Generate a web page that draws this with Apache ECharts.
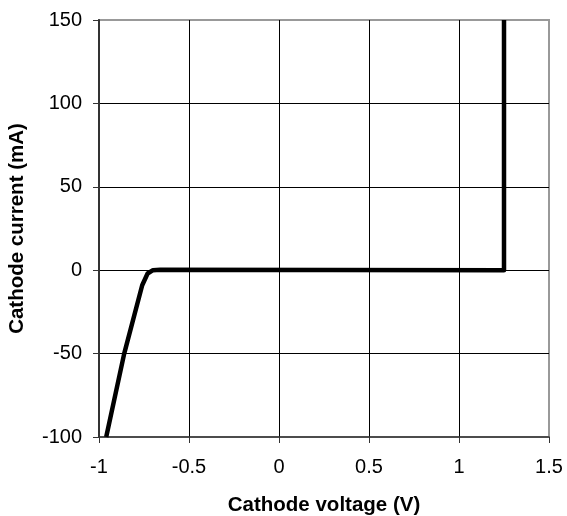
<!DOCTYPE html>
<html><head><meta charset="utf-8">
<script src="https://cdn.jsdelivr.net/npm/echarts@6/dist/echarts.min.js"></script>
<style>html,body{margin:0;padding:0;background:#fff}#c{width:567px;height:516px}</style>
</head><body><div id="c"></div>
<script>
const voltage = [-0.96, -0.86, -0.76, -0.73, -0.70, -0.66, 1.25, 1.25];
const current = [-100, -50, -9, -2, 0, 0.3, 0, 150];
const xTicks = [-1, -0.5, 0, 0.5, 1, 1.5];
const yTicks = [-100, -50, 0, 50, 100, 150];
const xTitle = 'Cathode voltage (V)';
const yTitle = 'Cathode current (mA)';

const chart = echarts.init(document.getElementById('c'), null, {renderer:'canvas'});
const font = 'Liberation Sans, Arial, sans-serif';
chart.setOption({
  animation:false,
  backgroundColor:'#fff',
  grid:{left:99, right:18, top:20, bottom:79, containLabel:false, outerBoundsMode:'none',
    show:true, borderColor:'#999', borderWidth:2, backgroundColor:'transparent'},
  xAxis:{type:'value', min:xTicks[0], max:xTicks[xTicks.length-1], interval:0.5,
    name:xTitle, nameLocation:'middle', nameGap:58,
    nameTextStyle:{fontFamily:font, fontWeight:'bold', fontSize:20.5, color:'#000'},
    axisLine:{onZero:false, lineStyle:{color:'#333', width:1.5}},
    axisTick:{show:true, length:6, lineStyle:{color:'#333'}},
    axisLabel:{fontFamily:font, fontSize:20, color:'#000', margin:20},
    splitLine:{show:true, showMinLine:false, showMaxLine:false, lineStyle:{color:'#000', width:1}}},
  yAxis:{type:'value', min:yTicks[0], max:yTicks[yTicks.length-1], interval:50,
    name:yTitle, nameLocation:'middle', nameGap:71, nameRotate:90,
    nameTextStyle:{fontFamily:font, fontWeight:'bold', fontSize:20.5, color:'#000'},
    axisLine:{show:true, onZero:false, lineStyle:{color:'#333', width:2}},
    axisTick:{show:true, length:6, lineStyle:{color:'#333'}},
    axisLabel:{fontFamily:font, fontSize:20, color:'#000', margin:17},
    splitLine:{show:true, showMinLine:false, showMaxLine:false, lineStyle:{color:'#000', width:1}}},
  series:[{type:'line', data:voltage.map((v,i)=>[v,current[i]]), showSymbol:false, symbol:'none',
    lineStyle:{color:'#000', width:4.5, join:'round'}, clip:true}]
});
</script></body></html>
